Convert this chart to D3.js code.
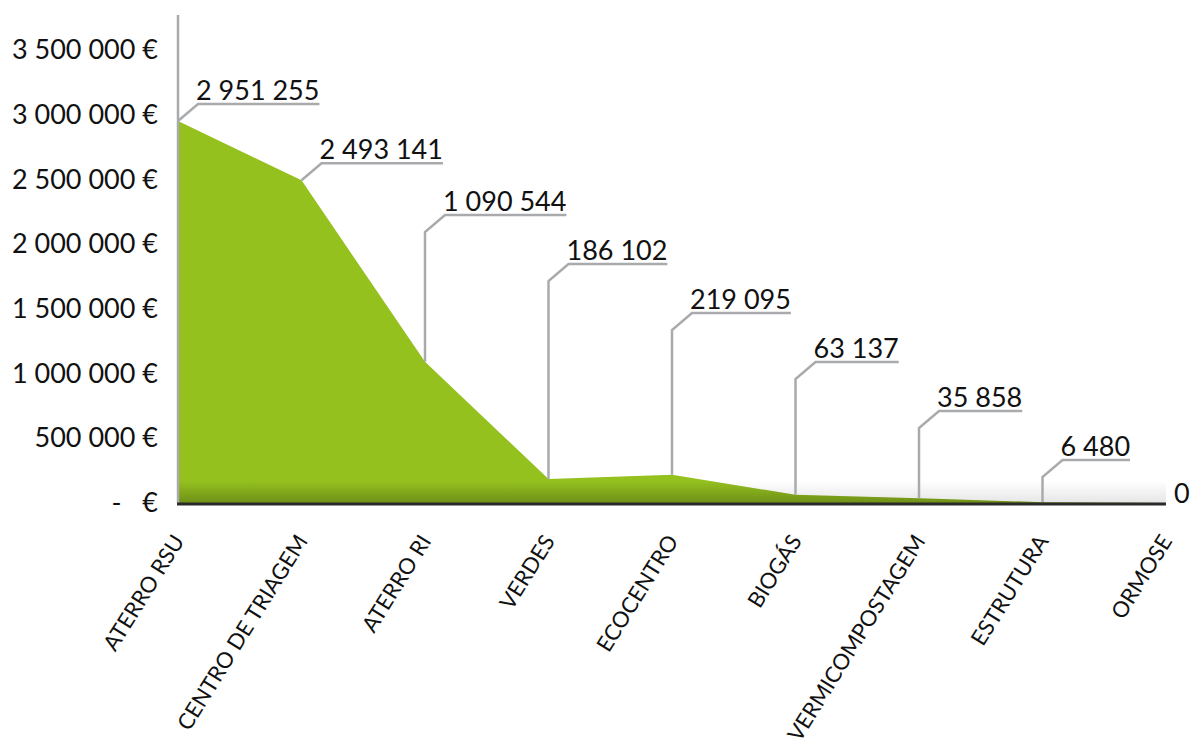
<!DOCTYPE html>
<html>
<head>
<meta charset="utf-8">
<script src="https://cdn.jsdelivr.net/npm/d3@7"></script>
<style>
  html, body { margin: 0; padding: 0; background: #ffffff; }
  svg { display: block; font-family: Lato, "Open Sans", sans-serif; }
</style>
</head>
<body>
<svg id="chart" width="1190" height="738"></svg>
<script>
// Cost per facility (€)
const categories = ["ATERRO RSU", "CENTRO DE TRIAGEM", "ATERRO RI", "VERDES", "ECOCENTRO",
                    "BIOGÁS", "VERMICOMPOSTAGEM", "ESTRUTURA", "ORMOSE"];
const costs = [2951255, 2493141, 1090544, 186102, 219095, 63137, 35858, 6480, 0];
const yTicks = [0, 500000, 1000000, 1500000, 2000000, 2500000, 3000000, 3500000];

const svg = d3.select("#chart");

const pt = d3.formatLocale({ decimal: ",", thousands: " ", grouping: [3], currency: ["", " €"] });
const fmtNum = pt.format(",d");

const x = d3.scalePoint().domain(categories).range([178, 1166]);
const y = d3.scaleLinear().domain([0, 3500000]).range([503, 50]);
// staircase height for the callout elbows
const calloutTop = d3.scaleLinear().domain([0, categories.length - 2]).range([134, 477]);

const data = categories.map((c, i) => ({ cat: c, value: costs[i], i }));

// gradients for the ground shadow
const defs = svg.append("defs");
const g1 = defs.append("linearGradient").attr("id", "shadeGreen")
  .attr("x1", 0).attr("y1", 0).attr("x2", 0).attr("y2", 1);
g1.append("stop").attr("offset", "0%").attr("stop-color", "#000").attr("stop-opacity", 0);
g1.append("stop").attr("offset", "100%").attr("stop-color", "#000").attr("stop-opacity", 0.17);
const g2 = defs.append("linearGradient").attr("id", "shadeGround")
  .attr("x1", 0).attr("y1", 0).attr("x2", 0).attr("y2", 1);
g2.append("stop").attr("offset", "0%").attr("stop-color", "#000").attr("stop-opacity", 0);
g2.append("stop").attr("offset", "100%").attr("stop-color", "#000").attr("stop-opacity", 0.1);

const area = d3.area()
  .x(d => x(d.cat))
  .y0(y(0))
  .y1(d => y(d.value));

defs.append("clipPath").attr("id", "areaClip")
  .append("path").attr("d", area(data));

// the area
svg.append("path")
  .attr("d", area(data))
  .attr("fill", "#95c11f");

// soft shadow along the ground line
const shadowH = 22;
svg.append("rect")
  .attr("x", x.range()[0]).attr("y", y(0) - shadowH)
  .attr("width", x.range()[1] - x.range()[0]).attr("height", shadowH)
  .attr("fill", "url(#shadeGround)");
svg.append("rect")
  .attr("clip-path", "url(#areaClip)")
  .attr("x", x.range()[0]).attr("y", y(0) - shadowH)
  .attr("width", x.range()[1] - x.range()[0]).attr("height", shadowH)
  .attr("fill", "url(#shadeGreen)");

// callouts
const callouts = svg.append("g");
const dxElbow = 20, dyElbow = 17;
data.forEach(d => {
  const px = x(d.cat), py = y(d.value);
  if (d.value === 0) {
    callouts.append("text")
      .attr("x", px + 8).attr("y", py)
      .attr("font-size", 27).attr("fill", "#111")
      .text(fmtNum(d.value));
    return;
  }
  const top = Math.min(py, calloutTop(d.i));
  const ex = px + dxElbow, ey = top - dyElbow;
  const t = callouts.append("text")
    .attr("x", ex - 2).attr("y", ey - 4)
    .attr("font-size", 27).attr("fill", "#111")
    .text(fmtNum(d.value));
  const w = t.node().getComputedTextLength();
  callouts.insert("path", "text")
    .attr("d", d3.line()([[px, py], [px, top], [ex, ey], [ex - 2 + w, ey]]))
    .attr("fill", "none")
    .attr("stroke", "#a9aaad")
    .attr("stroke-width", 2.5);
});

// vertical axis line
svg.append("line")
  .attr("x1", x.range()[0]).attr("x2", x.range()[0])
  .attr("y1", 15).attr("y2", y(0))
  .attr("stroke", "#a9aaad").attr("stroke-width", 2.5);

// ground line
svg.append("line")
  .attr("x1", x.range()[0] - 1).attr("x2", x.range()[1])
  .attr("y1", y(0) + 1).attr("y2", y(0) + 1)
  .attr("stroke", "#2a2a2a").attr("stroke-width", 3);

// y axis labels
const yAxis = d3.axisLeft(y)
  .tickValues(yTicks)
  .tickSize(0)
  .tickPadding(0)
  .tickFormat(v => v === 0 ? "-   €" : fmtNum(v) + " €");
const yg = svg.append("g").attr("transform", "translate(158,0)").call(yAxis);
yg.select(".domain").remove();
yg.selectAll("text")
  .attr("font-family", "Lato, 'Open Sans', sans-serif")
  .attr("font-size", 27)
  .attr("fill", "#111")
  .style("white-space", "pre");

// category labels, slanted under each point
svg.append("g").selectAll("text")
  .data(data)
  .join("text")
  .attr("transform", d => `translate(${x(d.cat) + 7},541) rotate(-58)`)
  .attr("text-anchor", "end")
  .attr("font-size", 22)
  .attr("fill", "#111")
  .text(d => d.cat);
</script>
</body>
</html>
